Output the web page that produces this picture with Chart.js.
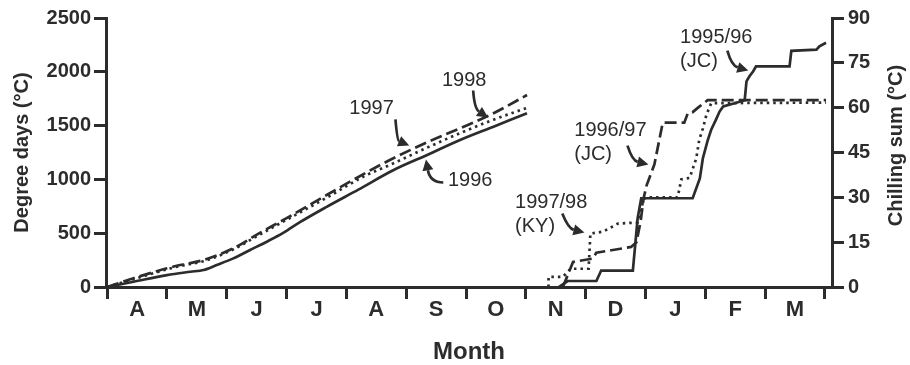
<!DOCTYPE html>
<html>
<head>
<meta charset="utf-8">
<script src="https://cdn.jsdelivr.net/npm/chart.js@4"></script>
<style>
body{margin:0;background:#fff;}
canvas{display:block;}
</style>
</head>
<body>
<canvas id="chart" width="910" height="365"></canvas>
<script>
// months from April to March, labels sit in the middle of each month
const monthLabels=["A","M","J","J","A","S","O","N","D","J","F","M"];
const monthMids=[0.5,1.5,2.5,3.5,4.5,5.5,6.5,7.5,8.5,9.5,10.5,11.5];

// degree days (left axis), x = months since 1 April
const ddMonths1996=[0,0.44,1.0,1.39,1.61,1.83,2.11,2.39,2.67,2.95,3.23,3.67,4.2,4.79,5.35,5.9,6.46,7.02];
const dd1996=[0,49,111,142,158,204,266,344,421,505,605,745,905,1087,1227,1366,1490,1614];

const ddMonths1997=[0,0.44,1.0,1.22,1.61,2.11,2.56,3.0,3.67,4.62,5.35,5.9,6.46,7.02];
const dd1997=[0,81,174,204,251,360,505,640,855,1150,1345,1475,1615,1784];

const ddMonths1998=[0,0.44,1.0,1.22,1.61,2.11,2.56,3.0,3.67,4.3,4.79,5.35,5.9,6.46,7.02];
const dd1998=[0,72,165,195,240,350,490,625,830,1030,1150,1295,1430,1555,1665];

// chilling sums (right axis)
const chMonths9596=[7.55,7.70,8.18,8.26,8.79,8.87,8.93,9.79,9.91,9.96,10.04,10.10,10.18,10.24,10.30,10.49,10.66,10.69,10.74,10.80,10.85,11.41,11.44,11.86,11.91,12.02];
const ch9596=[0,2,2,5.5,5.5,23,29.7,29.7,36.3,43,49,52.6,56,58.7,60.4,61.5,62.5,68.8,70.5,72.1,73.8,73.8,79,79.4,80.5,81.7];

const chMonths9697=[7.62,7.79,8.12,8.18,8.43,8.76,8.85,8.92,8.97,9.02,9.15,9.24,9.29,9.65,9.71,9.79,9.88,10.04,12.02];
const ch9697=[0,8.4,9.5,11.5,12.3,13.4,15,22,29.7,34,41,50,55,55,58.2,58.5,60,62.5,62.5];

const chMonths9798=[7.38,7.38,7.62,7.75,8.05,8.08,8.29,8.54,8.87,8.93,8.97,9.03,9.54,9.60,9.74,9.85,9.90,9.96,10.02,10.10,12.02];
const ch9798=[0,3.4,3.4,6.1,6.1,17.9,18.5,21.2,21.6,26,29.5,30,30,36,36.5,43,49.2,53,57.6,61.5,61.7];

const ink="#2c2c2c";
const font="'Liberation Sans', Arial, sans-serif";

function pts(xs,ys){
  return xs.map((x,i)=>({x:x,y:ys[i]}));
}

function line(xs,ys,axis,dash,smooth){
  return {
    data:pts(xs,ys),
    yAxisID:axis,
    borderColor:ink,
    borderWidth:2.7,
    borderDash:dash,
    pointRadius:0,
    fill:false,
    tension:0,
    cubicInterpolationMode:smooth?"monotone":"default"
  };
}

// labels with curved arrows, placed in data units
const notes=[
  {lines:["1997"],x:4.42,y:1659,axis:"y",align:"center",arrow:[4.82,1557,4.85,1362,5.05,1315]},
  {lines:["1998"],x:5.97,y:1919,axis:"y",align:"center",arrow:[6.12,1826,6.14,1659,6.37,1575]},
  {lines:["1996"],x:6.07,y:990,axis:"y",align:"center",arrow:[5.62,971,5.40,971,5.33,1185]},
  {lines:["1997/98","(KY)"],x:6.82,y:28.3,axis:"y2",align:"left",arrow:[7.61,24.6,7.71,19.6,7.98,18.2]},
  {lines:["1996/97","(JC)"],x:7.81,y:52.4,axis:"y2",align:"left",arrow:[8.70,47.3,8.78,42.3,9.05,41.0]},
  {lines:["1995/96","(JC)"],x:9.58,y:83.5,axis:"y2",align:"left",arrow:[10.37,79.1,10.44,74.1,10.72,72.4]}
];

const notePlugin={
  id:"notes",
  afterDraw(c){
    const ctx=c.ctx;
    const sx=c.scales.x;
    ctx.save();
    ctx.fillStyle=ink;
    ctx.strokeStyle=ink;
    ctx.font="20px "+font;
    ctx.textBaseline="middle";
    notes.forEach(n=>{
      const sy=c.scales[n.axis];
      const tx=sx.getPixelForValue(n.x);
      const ty=sy.getPixelForValue(n.y);
      ctx.textAlign=n.align;
      n.lines.forEach((t,i)=>ctx.fillText(t,tx,ty+i*24));
      const a=n.arrow;
      const x0=sx.getPixelForValue(a[0]),y0=sy.getPixelForValue(a[1]);
      const cx=sx.getPixelForValue(a[2]),cy=sy.getPixelForValue(a[3]);
      const x1=sx.getPixelForValue(a[4]),y1=sy.getPixelForValue(a[5]);
      const ang=Math.atan2(y1-cy,x1-cx);
      const L=11,W=5.5;
      const bx=x1-Math.cos(ang)*L,by=y1-Math.sin(ang)*L;
      ctx.lineWidth=2.7;
      ctx.beginPath();
      ctx.moveTo(x0,y0);
      ctx.quadraticCurveTo(cx,cy,bx,by);
      ctx.stroke();
      ctx.beginPath();
      ctx.moveTo(x1,y1);
      ctx.lineTo(bx-Math.sin(ang)*W,by+Math.cos(ang)*W);
      ctx.lineTo(bx+Math.sin(ang)*W,by-Math.cos(ang)*W);
      ctx.closePath();
      ctx.fill();
    });
    // right axis title reads bottom to top
    const a=c.chartArea;
    ctx.translate(896,(a.top+a.bottom)/2-7);
    ctx.rotate(-Math.PI/2);
    ctx.textAlign="center";
    ctx.font="bold 20px "+font;
    ctx.fillText("Chilling sum (\u00B0C)",0,0);
    ctx.restore();
  }
};

const axisGrid={drawOnChartArea:false,drawTicks:true,tickLength:12,tickWidth:3,tickColor:ink,color:ink,lineWidth:3};
const axisBorder={display:true,width:3,color:ink};
const tickFont={family:font,size:20,weight:"bold"};

new Chart(document.getElementById("chart"),{
  type:"line",
  data:{
    datasets:[
      line(ddMonths1996,dd1996,"y",[],true),
      line(ddMonths1997,dd1997,"y",[12,5],true),
      line(ddMonths1998,dd1998,"y",[2.5,4],true),
      line(chMonths9596,ch9596,"y2",[],false),
      line(chMonths9697,ch9697,"y2",[12,5],false),
      line(chMonths9798,ch9798,"y2",[2.5,4],false)
    ]
  },
  options:{
    responsive:false,
    animation:false,
    devicePixelRatio:1,
    layout:{padding:{top:18,left:0,right:0,bottom:0}},
    plugins:{legend:{display:false},tooltip:{enabled:false}},
    scales:{
      x:{
        type:"linear",
        min:-0.02,
        max:12.12,
        afterBuildTicks:s=>{s.ticks=monthMids.map(v=>({value:v}));},
        afterFit:s=>{s.height=78;},
        grid:Object.assign({offset:true},axisGrid),
        border:axisBorder,
        ticks:{autoSkip:false,maxRotation:0,padding:0,color:ink,font:{family:font,size:22,weight:"bold",lineHeight:1},callback:(v,i)=>monthLabels[i]},
        title:{display:true,text:"Month",color:ink,font:{family:font,size:24,weight:"bold",lineHeight:1},padding:{top:0,bottom:1}}
      },
      y:{
        position:"left",
        min:0,
        max:2500,
        afterFit:s=>{s.width=106;},
        grid:axisGrid,
        border:axisBorder,
        ticks:{stepSize:500,padding:3,color:ink,font:tickFont,callback:v=>String(v)},
        title:{display:true,text:"Degree days (\u00B0C)",color:ink,font:{family:font,size:20,weight:"bold",lineHeight:1.2},padding:{top:10,bottom:0}}
      },
      y2:{
        position:"right",
        min:0,
        max:90,
        afterFit:s=>{s.width=78;},
        grid:axisGrid,
        border:axisBorder,
        ticks:{stepSize:15,padding:4,color:ink,font:tickFont,callback:v=>String(v)}
      }
    }
  },
  plugins:[notePlugin]
});
</script>
</body>
</html>
